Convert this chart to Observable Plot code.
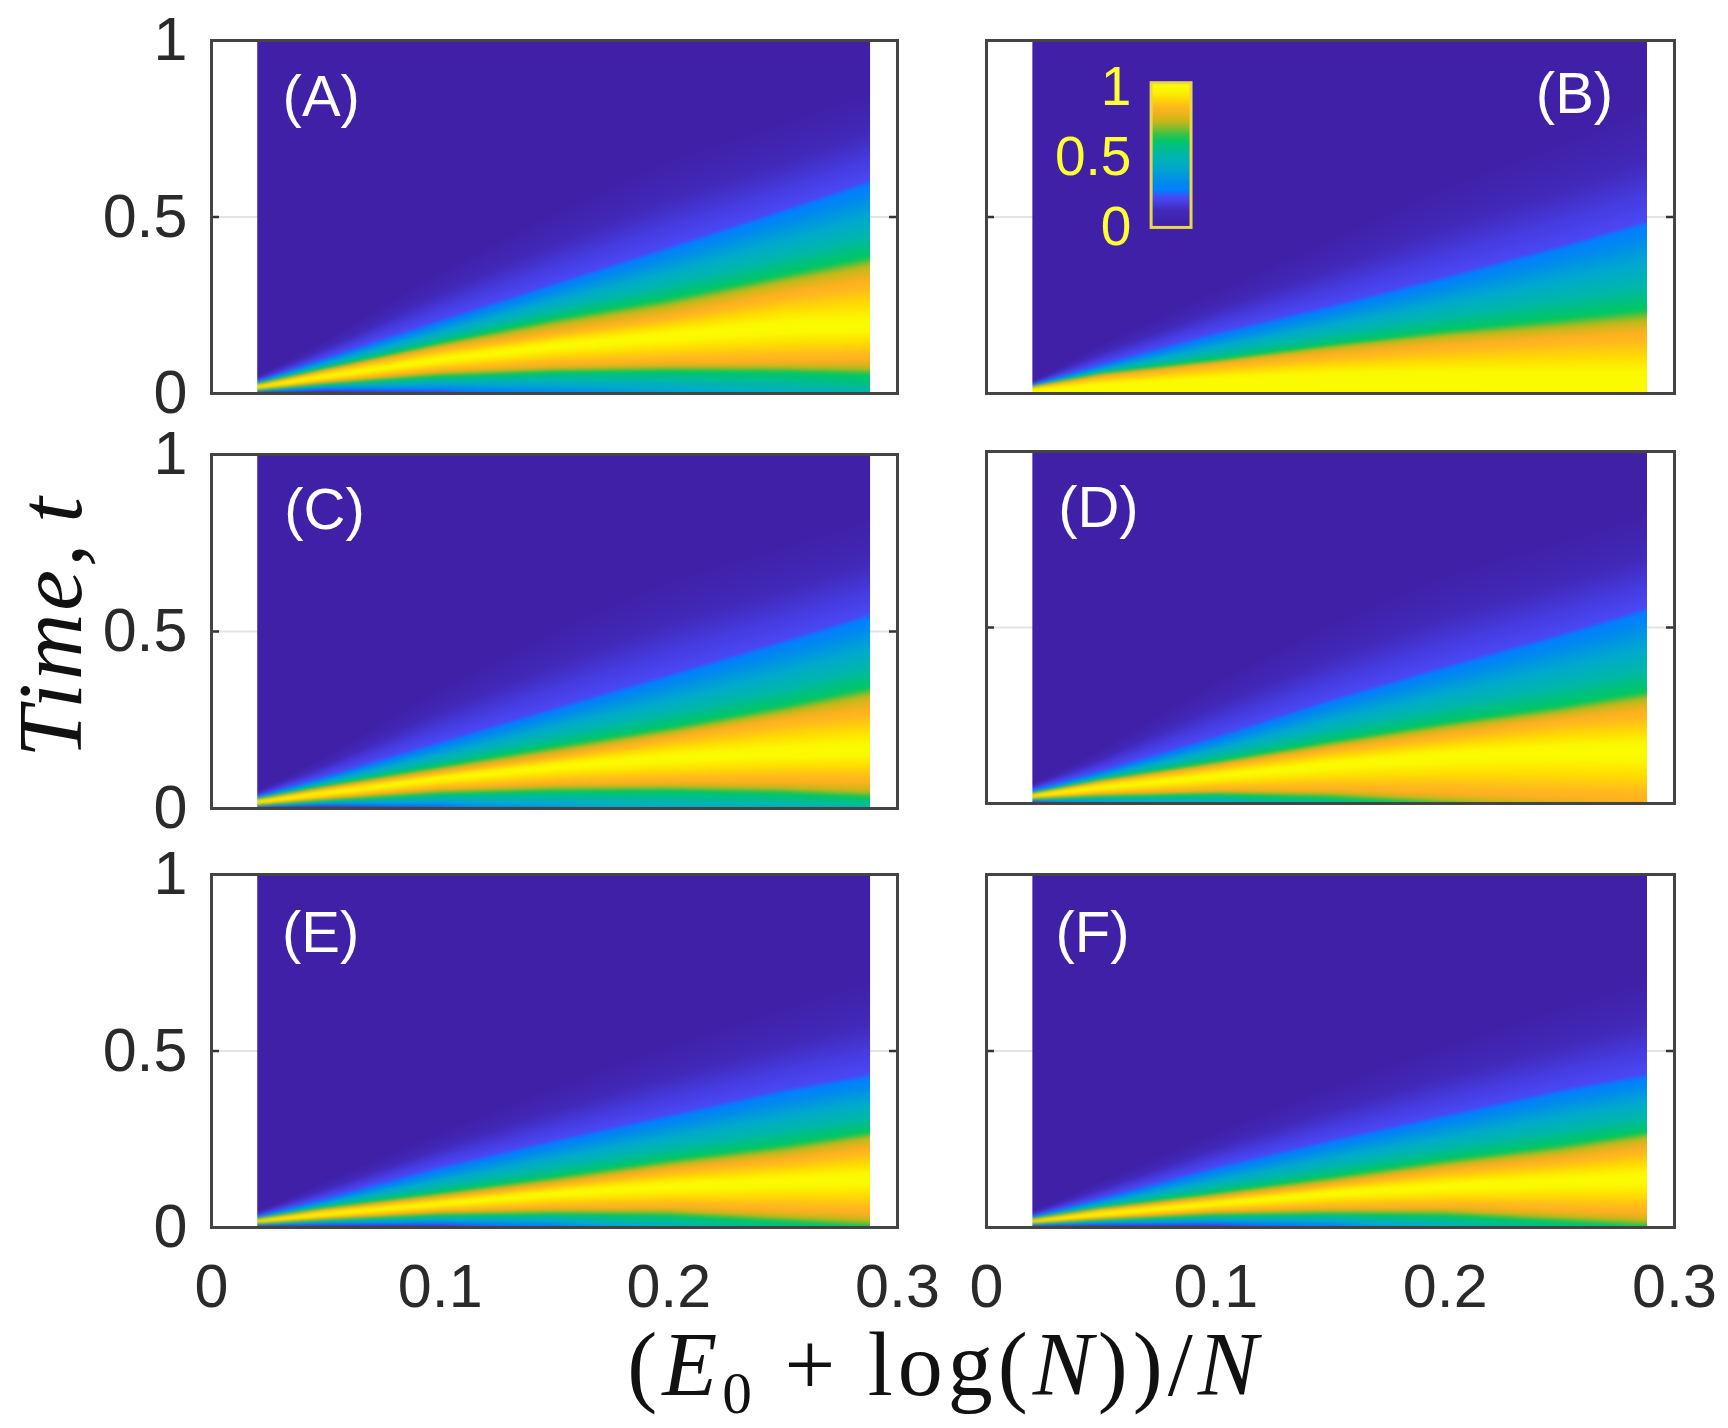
<!DOCTYPE html>
<html><head><meta charset="utf-8">
<script src="https://cdn.jsdelivr.net/npm/d3@7"></script>
<script src="https://cdn.jsdelivr.net/npm/@observablehq/plot@0.6"></script>
<style>
html,body{margin:0;background:#fff}
#page{position:relative;width:1728px;height:1428px;overflow:hidden}
#page>svg,#page svg{position:absolute;max-width:none;overflow:visible;background:transparent}
.math{position:absolute;font-family:"Liberation Serif",serif;color:#111;white-space:nowrap}
.math i{font-style:italic}
.math sub{font-size:.66em;vertical-align:-.3em;line-height:0}
</style></head><body><div id="page"></div>
<script>
// Value read at the top-to-bottom level curves of each panel.
const levels = [0, .2, .25, .62, .74, .83, 1, .83, .74, .62, .25, 0];
const xColumns = [.02, .05, .1, .15, .2, .25, .288];

// Each row: the time t (per column) at which that level is reached.
const curvesA = [
 [.048,.154,.356,.529,.683,.788,.875],
 [.037,.101,.209,.313,.416,.521,.606],
 [.034,.096,.200,.304,.407,.512,.591],
 [.028,.072,.144,.212,.269,.337,.389],
 [.026,.069,.136,.195,.248,.315,.361],
 [.024,.065,.127,.173,.221,.284,.322],
 [.018,.048,.096,.135,.163,.188,.192],
 [.013,.034,.065,.082,.088,.091,.096],
 [.011,.030,.058,.070,.075,.075,.072],
 [.009,.027,.048,.060,.063,.060,.051],
 [.004,.012,.010,-.005,-.029,-.067,-.106],
 [0,0,-.01,-.048,-.096,-.144,-.202]];
const curvesB = [
 [.030,.144,.298,.452,.606,.731,.827],
 [.029,.084,.173,.250,.332,.418,.490],
 [.024,.077,.163,.240,.322,.409,.476],
 [.021,.058,.096,.139,.178,.212,.240],
 [.020,.054,.090,.130,.162,.186,.207],
 [.018,.048,.082,.111,.137,.159,.173],
 [.010,.024,.038,.048,.048,.043,.038],
 [-.40,-.40,-.40,-.40,-.40,-.40,-.40],
 [-.45,-.45,-.45,-.45,-.45,-.45,-.45],
 [-.50,-.50,-.50,-.50,-.50,-.50,-.50],
 [-.55,-.55,-.55,-.55,-.55,-.55,-.55],
 [-.60,-.60,-.60,-.60,-.60,-.60,-.60]];
const curvesC = [
 [.048,.152,.352,.524,.667,.762,.838],
 [.038,.092,.190,.285,.379,.474,.552],
 [.033,.086,.181,.276,.370,.465,.538],
 [.028,.065,.119,.176,.229,.290,.343],
 [.026,.061,.112,.162,.214,.271,.319],
 [.024,.057,.102,.148,.200,.252,.281],
 [.018,.043,.086,.119,.143,.157,.167],
 [.012,.030,.057,.071,.076,.076,.071],
 [.010,.027,.050,.060,.062,.057,.048],
 [.009,.022,.041,.048,.050,.043,.029],
 [.004,.010,.005,-.014,-.048,-.057,-.062],
 [0,0,-.005,-.038,-.095,-.133,-.162]];
const curvesD = [
 [.054,.158,.358,.528,.671,.766,.842],
 [.043,.094,.192,.296,.391,.481,.557],
 [.035,.087,.182,.287,.381,.472,.543],
 [.030,.068,.120,.177,.230,.277,.320],
 [.028,.065,.113,.166,.215,.258,.296],
 [.028,.062,.106,.154,.196,.239,.263],
 [.021,.045,.078,.111,.135,.149,.149],
 [.016,.028,.040,.040,.030,.016,.007],
 [.014,.024,.032,.028,.011,-.008,-.022],
 [.012,.020,.026,.016,-.003,-.027,-.046],
 [.007,-.003,-.022,-.060,-.107,-.145,-.183],
 [0,-.031,-.069,-.117,-.164,-.202,-.240]];
const curvesE = [
 [.045,.135,.277,.410,.533,.638,.723],
 [.035,.084,.173,.249,.320,.391,.436],
 [.030,.078,.163,.239,.310,.381,.424],
 [.026,.057,.099,.144,.192,.234,.272],
 [.024,.054,.092,.132,.177,.215,.253],
 [.022,.050,.084,.122,.163,.194,.225],
 [.017,.038,.068,.097,.116,.130,.139],
 [.013,.027,.047,.057,.059,.049,.040],
 [.012,.024,.042,.047,.047,.030,.019],
 [.010,.021,.034,.038,.033,.016,0],
 [.006,.009,.011,.002,-.036,-.074,-.112],
 [0,0,-.003,-.036,-.083,-.131,-.178]];
const curvesF = curvesE; // panels E and F read the same

const colorStops = [0, .1, .16, .2, .25, .3, .42, .52, .62, .67, .74, .83, .86, .92, .97, 1];
const colorRange = ["#3f20a6","#4229ba","#463de2","#4a48f5","#0080ff","#0088f0","#00aacc","#00b8a8","#00c860","#50c040","#c0b818","#ffb020","#ffba1c","#ffde00","#fbf800","#fbfb00"];
const colorbarValues = [1,.95,.9,.85,.8,.75,.7,.65,.6,.55,.5,.45,.4,.35,.3,.25,.2,.15,.1,.05,0];

const xDomain = [0, .3];
const xTicks = [0, .1, .2, .3];
const yTicks = [0, .5, 1];

const panels = [
 {name:"(A)", curves:curvesA, frame:[211,40,897,393],  lx:.048, lt:.835, col:0, last:false},
 {name:"(B)", curves:curvesB, frame:[986,40,1674,393], lx:.2564,lt:.843, col:1, last:false, bar:true},
 {name:"(C)", curves:curvesC, frame:[211,454,897,808], lx:.0494,lt:.839, col:0, last:false},
 {name:"(D)", curves:curvesD, frame:[986,451,1674,803],lx:.0488,lt:.835, col:1, last:false},
 {name:"(E)", curves:curvesE, frame:[211,874,897,1227],lx:.0477,lt:.83,  col:0, last:true},
 {name:"(F)", curves:curvesF, frame:[986,874,1674,1227],lx:.0462,lt:.83, col:1, last:true}
];

const colorFn = d3.scaleLinear().domain(colorStops).range(colorRange).clamp(true);

// Raster interpolator that walks between the level curves of a column table.
function betweenCurves(nC, nL) {
  return (index, w, h, X, Y, V) => {
    const out = new Float64Array(w * h);
    const at = (j, i) => index[j * nL + i];
    const yy = new Float64Array(nL);
    for (let px = 0; px < w; ++px) {
      const u = px + .5;
      let j = 0;
      while (j < nC - 2 && X[at(j + 1, 0)] <= u) ++j;
      const x0 = X[at(j, 0)], x1 = X[at(j + 1, 0)];
      const f = Math.max(0, Math.min(1, (u - x0) / (x1 - x0)));
      for (let i = 0; i < nL; ++i) yy[i] = Y[at(j, i)] * (1 - f) + Y[at(j + 1, i)] * f;
      const s = yy[nL - 1] > yy[0] ? 1 : -1;
      for (let py = 0; py < h; ++py) {
        const p = (py + .5) * s;
        let v;
        if (p <= yy[0] * s) v = V[at(j, 0)];
        else if (p >= yy[nL - 1] * s) v = V[at(j, nL - 1)];
        else {
          let i = 0;
          while (i < nL - 2 && p > yy[i + 1] * s) ++i;
          const d = (yy[i + 1] - yy[i]) * s;
          const g = d > 0 ? (p - yy[i] * s) / d : 0;
          v = V[at(j, i)] * (1 - g) + V[at(j, i + 1)] * g;
        }
        out[px + py * w] = v;
      }
    }
    return out;
  };
}

const mL = 215, mR = 50, mT = 30, mB = 90;
const font = '"Liberation Sans", Arimo, Helvetica, Arial, sans-serif';
const page = document.getElementById("page");

for (const p of panels) {
  const [l, t, r, b] = p.frame;
  const samples = [];
  xColumns.forEach((x, j) => levels.forEach((v, i) => samples.push({x, t: p.curves[i][j], v})));
  const marks = [
    Plot.ruleY([.5], {stroke: "#e4e4e4", strokeWidth: 2}),
    Plot.ruleY([.5], {x1: 0, x2: .0035, stroke: "#333", strokeWidth: 2.5}),
    Plot.ruleY([.5], {x1: .2965, x2: .3, stroke: "#333", strokeWidth: 2.5}),
    Plot.raster(samples, {x: "x", y: "t", fill: "v", x1: .02, x2: .288, y1: 0, y2: 1,
      interpolate: betweenCurves(xColumns.length, levels.length), blur: 1}),
  ];
  if (p.bar) {
    marks.push(
      Plot.raster(colorbarValues, {width: 1, height: colorbarValues.length, x1: .072, x2: .0894, y1: .879, y2: .469, imageRendering: "auto"}),
      Plot.rect([0], {x1: .072, x2: .0894, y1: .469, y2: .879, stroke: "#e6d84a", strokeWidth: 3, fill: "none"}),
      Plot.text(["1", "0.5", "0"], {x: [.0565, .0465, .0565], y: [.868, .67, .47], text: d => d, fill: "#ffff33", fontSize: 55, fontFamily: font})
    );
  }
  marks.push(
    Plot.text([p.name], {x: [p.lx], y: [p.lt + .003], text: d => d, fill: "#fff", fontSize: 58, fontFamily: font}),
    Plot.frame({stroke: "#444", strokeWidth: 3})
  );
  if (p.col === 0) marks.push(Plot.axisY({ticks: yTicks, tickSize: 0, tickPadding: 24, tickFormat: d => String(d), fill: "#2a2a2a", fontSize: 61, fontFamily: font, label: null}));
  if (p.last) marks.push(Plot.axisX({ticks: xTicks, tickSize: 0, tickPadding: 36, tickFormat: d => String(d), fill: "#2a2a2a", fontSize: 61, fontFamily: font, label: null}));
  const svg = Plot.plot({
    width: r - l + mL + mR, height: b - t + mT + mB,
    marginLeft: mL, marginRight: mR, marginTop: mT, marginBottom: mB,
    x: {domain: xDomain, axis: null},
    y: {domain: [0, 1], axis: null},
    color: {type: "linear", domain: [0, 1], interpolate: colorFn},
    style: {background: "transparent", overflow: "visible", fontFamily: font},
    marks
  });
  svg.style.left = (l - mL) + "px";
  svg.style.top = (t - mT) + "px";
  page.appendChild(svg);
}

// Axis titles
const xTitle = document.createElement("div");
xTitle.className = "math";
xTitle.innerHTML = '(<i>E</i><sub>0</sub> + log(<i>N</i>))/<i>N</i>';
xTitle.style.cssText = "left:945px;top:1325px;font-size:90px;line-height:80px;letter-spacing:5px;transform:translateX(-50%)";
page.appendChild(xTitle);
const yTitle = document.createElement("div");
yTitle.className = "math";
yTitle.innerHTML = '<i>Time, t</i>';
yTitle.style.cssText = "left:50px;top:626px;font-size:92px;line-height:92px;letter-spacing:3px;word-spacing:-8px;transform:translate(-50%,-50%) rotate(-90deg)";
page.appendChild(yTitle);
</script></body></html>
